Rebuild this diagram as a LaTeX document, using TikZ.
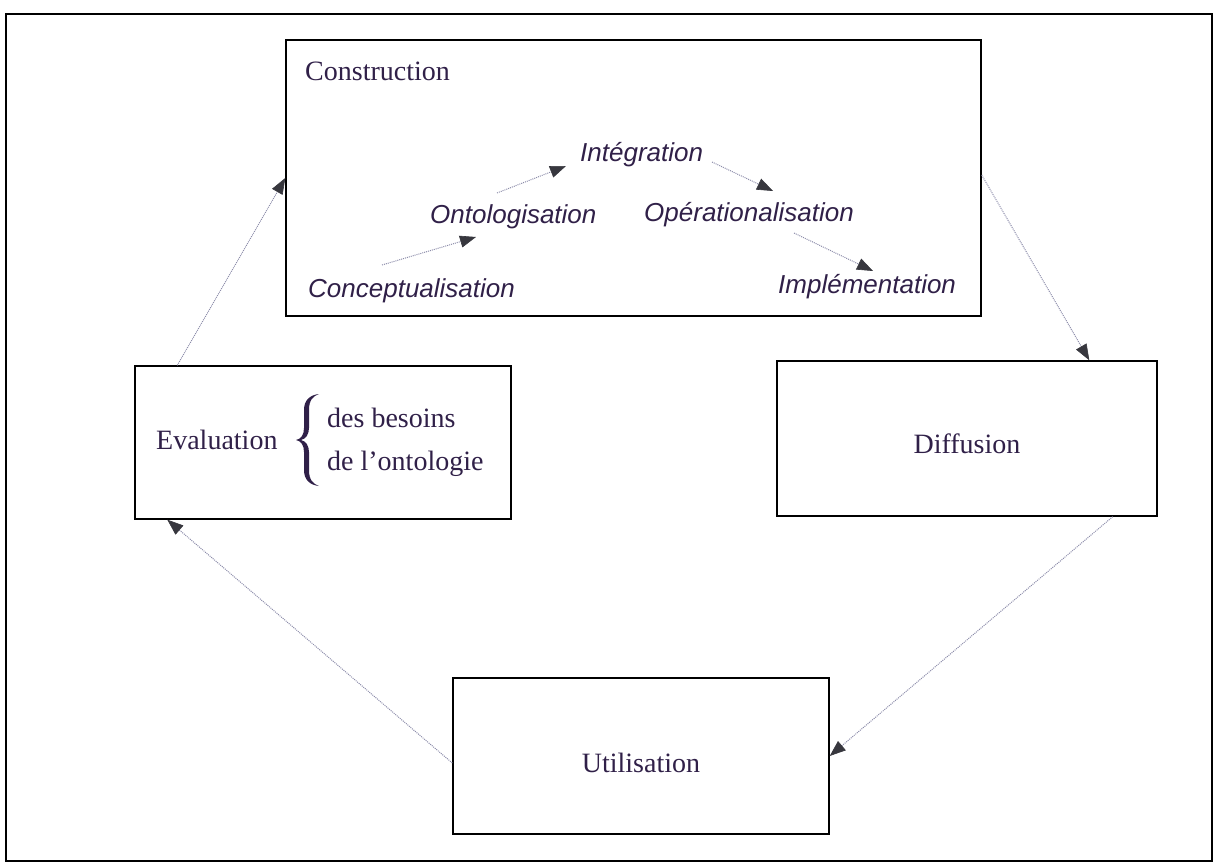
\documentclass[tikz,border=0pt]{standalone}
\usepackage{fontspec}
\setmainfont{Liberation Serif}
\newfontfamily\labelfont{Liberation Sans}
\usetikzlibrary{arrows.meta}
\definecolor{ink}{RGB}{48,32,72}
\definecolor{wire}{RGB}{140,140,170}
\definecolor{tipcol}{RGB}{55,55,62}
\tikzset{
  frame/.style={draw=black, line width=1.8pt},
  stage/.style={draw=black, line width=1.4pt, inner sep=0pt, font=\fontsize{28}{32}\selectfont, text=ink},
  phase/.style={inner sep=0pt, anchor=base west, font=\labelfont\itshape\fontsize{26}{30}\selectfont, text=ink},
  plain/.style={inner sep=0pt, anchor=base west, text=ink, font=\fontsize{28}{32}\selectfont},
  flow/.style={draw=wire, line width=1pt, densely dotted,
    -{Triangle[length=16pt,width=12pt,color=tipcol,fill=tipcol,line width=0.6pt]}},
}
\begin{document}
\begin{tikzpicture}[x=1pt,y=-1pt]
\useasboundingbox (0,0) rectangle (1215,864);
% outer frame
\draw[frame] (6,14) rectangle (1212,861);

% main stages
\node[stage, minimum width=695pt, minimum height=276pt] (constr) at (633.5,178) {};
\node[stage, minimum width=376pt, minimum height=153pt] (eval) at (323,442.5) {};
\node[stage, minimum width=380pt, minimum height=155pt, text height=30pt, text depth=0pt] (diff) at (967,438.5) {Diffusion};
\node[stage, minimum width=376pt, minimum height=156pt, text height=33pt, text depth=0pt] (util) at (641,756) {Utilisation};

% labels inside the construction box
\node[plain] (constrtitle) at (305,81) {Construction};
\node[phase] (integ) at (580,161) {Intégration};
\node[phase] (onto) at (430,223) {Ontologisation};
\node[phase] (opera) at (644,221) {Opérationalisation};
\node[phase] (concept) at (308,297) {Conceptualisation};
\node[phase] (impl) at (778,293) {Implémentation};

% evaluation label with its brace
\node[plain] (evaltext) at (156,449) {Evaluation};
\node[plain] (besoins) at (327,427) {des besoins};
\node[plain] (ontologie) at (327,470) {de l'ontologie};
\fill[ink] (319,394) .. controls (310,395) and (304,400) .. (304,410) -- (304,428)
  .. controls (304,435) and (301,439) .. (296,440)
  .. controls (301,441) and (304,445) .. (304,452) -- (304,470)
  .. controls (304,480) and (310,485) .. (319,486)
  .. controls (313,484) and (309,480) .. (309,470) -- (309,452)
  .. controls (309,446) and (306,441) .. (301,440)
  .. controls (306,439) and (309,434) .. (309,428) -- (309,410)
  .. controls (309,400) and (313,396) .. (319,394) -- cycle;

% construction phases
\draw[flow] ([shift={(74,-32)}]concept.base west) -- ([shift={(46,14)}]onto.base west);
\draw[flow] ([shift={(67,-30)}]onto.base west) -- ([shift={(-14,5)}]integ.base west);
\draw[flow] ([shift={(132,1)}]integ.base west) -- ([shift={(129,-30)}]opera.base west);
\draw[flow] ([shift={(150,12)}]opera.base west) -- ([shift={(95,-22)}]impl.base west);

% life cycle
\draw[flow] ([xshift=43pt]eval.north west) -- (constr.west);
\draw[flow] ([yshift=3pt]constr.east) -- ([xshift=313pt]diff.north west);
\draw[flow] ([xshift=-45pt]diff.south east) -- (util.east);
\draw[flow] ([yshift=-7pt]util.west) -- ([xshift=33pt]eval.south west);
\end{tikzpicture}
\end{document}
